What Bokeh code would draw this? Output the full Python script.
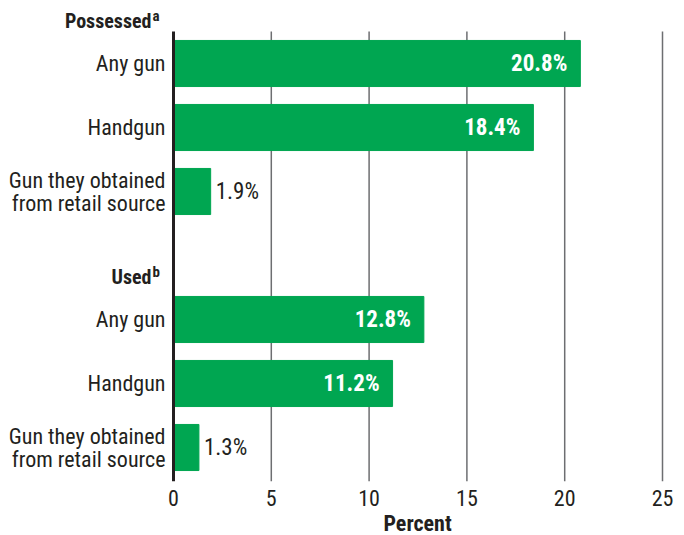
from bokeh.plotting import figure
from bokeh.models import Range1d, ColumnDataSource, FixedTicker, Title
from bokeh.core.properties import value
from bokeh.embed import file_html
from bokeh.resources import INLINE

# ---- data ----
groups = ["Possessed", "Used"]
group_notes = ["a", "b"]
categories = ["Any gun", "Handgun", "Gun they obtained\nfrom retail source"]
possessed = [20.8, 18.4, 1.9]
used = [12.8, 11.2, 1.3]
x_ticks = [0, 5, 10, 15, 20, 25]
axis_title = "Percent"

GREEN = "#00A651"
DARK = "#231F20"
GRID = "#6D6E71"
FONT = "Roboto Condensed"

series = [possessed, used]
rows_per_group = len(categories) + 1

ys, vals, names, labs = [], [], [], []
for g, vs in enumerate(series):
    for i, v in enumerate(vs):
        ys.append(g * rows_per_group + i)
        vals.append(v)
        names.append(categories[i])
        labs.append(f"{v:.1f}%")

src = ColumnDataSource(dict(y=ys, v=vals, name=names, lab=labs))
sel_in = [k for k, v in enumerate(vals) if v > 5]
sel_out = [k for k, v in enumerate(vals) if v <= 5]
inside = ColumnDataSource(dict(y=[ys[k] for k in sel_in], v=[vals[k] for k in sel_in],
                               lab=[labs[k] for k in sel_in]))
outside = ColumnDataSource(dict(y=[ys[k] for k in sel_out], v=[vals[k] for k in sel_out],
                                lab=[labs[k] for k in sel_out]))
hdr = ColumnDataSource(dict(y=[g * rows_per_group - 0.66 for g in range(len(groups))],
                            name=groups, note=group_notes))

# ---- geometry (pixels) ----
px_per_unit = 19.56
left_px = 173          # x = 0 position from the frame's left edge
frame_w = 676
x_start = -left_px / px_per_unit
x_end = x_start + frame_w / px_per_unit

slot = 64
top_border = 8
frame_h = 473
y_top = -(63 - top_border) / slot
y_bottom = y_top + frame_h / slot
grid_top = -0.5

p = figure(frame_width=frame_w, frame_height=frame_h,
           x_range=Range1d(x_start, x_end), y_range=Range1d(y_bottom, y_top),
           output_backend="svg", toolbar_location=None, y_axis_location=None,
           min_border_top=top_border, min_border_left=0, min_border_right=0,
           min_border_bottom=0)
p.outline_line_color = None
p.xgrid.visible = False
p.ygrid.visible = False

# vertical grid lines (limited to the bar area)
p.segment(x0=x_ticks[1:], x1=x_ticks[1:], y0=grid_top, y1=y_bottom,
          line_color=GRID, line_width=1.5)

p.xaxis.ticker = FixedTicker(ticks=x_ticks)
p.xaxis.axis_line_color = None
p.xaxis.major_tick_line_color = None
p.xaxis.minor_tick_line_color = None
p.xaxis.major_label_standoff = 2
p.xaxis.major_label_text_font = FONT
p.xaxis.major_label_text_font_size = "22px"
p.xaxis.major_label_text_color = DARK

# axis title centred under the 0-25 scale
p.add_layout(Title(text=axis_title, align="left", offset=383, standoff=0,
                   text_font=FONT, text_font_size="22px", text_font_style="bold",
                   text_color=DARK), "below")

p.hbar(y="y", left=0, right="v", height=0.72, color=GREEN, source=src)

# axis line at x = 0
p.segment(x0=x_ticks[0], x1=x_ticks[0], y0=grid_top, y1=y_bottom,
          line_color=DARK, line_width=3)

p.text(x=0, y="y", text="name", source=src, x_offset=-8,
       text_align="right", text_baseline="middle",
       text_font=value(FONT), text_font_size="22px", text_color=DARK,
       text_line_height=0.92)

p.text(x="v", y="y", text="lab", source=inside, x_offset=-13,
       text_align="right", text_baseline="middle",
       text_font=value(FONT), text_font_size="23px", text_font_style="bold",
       text_color="white")
p.text(x="v", y="y", text="lab", source=outside, x_offset=5,
       text_align="left", text_baseline="middle",
       text_font=value(FONT), text_font_size="23px", text_color=DARK)

p.text(x=0, y="y", text="name", source=hdr, x_offset=-22,
       text_align="right", text_baseline="middle",
       text_font=value(FONT), text_font_size="20px", text_font_style="bold",
       text_color=DARK)
p.text(x=0, y="y", text="note", source=hdr, x_offset=-21, y_offset=-5,
       text_align="left", text_baseline="middle",
       text_font=value(FONT), text_font_size="15px", text_font_style="bold",
       text_color=DARK)

open("out.html", "w").write(file_html(p, INLINE))
